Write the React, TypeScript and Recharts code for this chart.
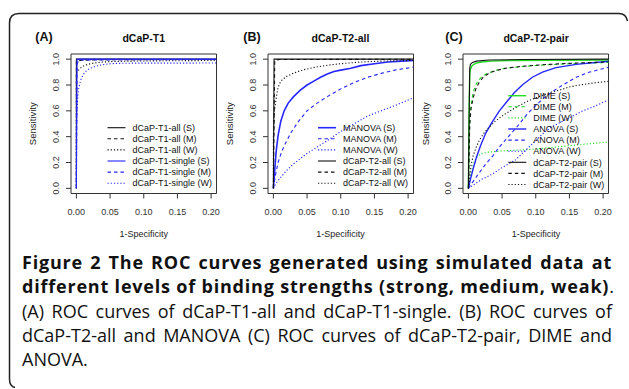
import React from "react";
import { LineChart, Line, XAxis, YAxis, ReferenceArea } from "recharts";

type Pt = [number, number];

// axes shared by the three panels
const X_TICKS = [0, 0.05, 0.1, 0.15, 0.2];
const Y_TICKS = [0, 0.2, 0.4, 0.6, 0.8, 1];
const X_DOMAIN: [number, number] = [-0.008, 0.208];
const Y_DOMAIN: [number, number] = [-0.04, 1.04];

// (A) dCaP-T1 — [1-specificity, sensitivity]
const T1_ALL_S: Pt[] = [[0, 0], [0, 1], [0.21, 1]];
const T1_ALL_M: Pt[] = [[0, 0], [0, 0.985], [0.01, 0.992], [0.03, 0.996], [0.21, 0.998]];
const T1_ALL_W: Pt[] = [
  [0, 0], [0, 0.89], [0.002, 0.905], [0.004, 0.92], [0.007, 0.935], [0.011, 0.948], [0.016, 0.958],
  [0.022, 0.966], [0.03, 0.973], [0.04, 0.978], [0.05, 0.981], [0.08, 0.985], [0.12, 0.987], [0.21, 0.99],
];
const T1_SINGLE_S: Pt[] = [[0, 0], [0.001, 1], [0.21, 1]];
const T1_SINGLE_M: Pt[] = [[0, 0], [0.001, 0.96], [0.003, 0.985], [0.008, 0.994], [0.21, 0.998]];
const T1_SINGLE_W: Pt[] = [
  [0, 0], [0, 0.45], [0.001, 0.6], [0.002, 0.7], [0.003, 0.76], [0.0045, 0.8], [0.0065, 0.84], [0.009, 0.87],
  [0.012, 0.895], [0.016, 0.915], [0.021, 0.93], [0.028, 0.944], [0.036, 0.955], [0.046, 0.962],
  [0.057, 0.967], [0.08, 0.969], [0.21, 0.97],
];

// (B) dCaP-T2-all
const MANOVA_S: Pt[] = [
  [0, 0], [0.002, 0.14], [0.004, 0.28], [0.007, 0.41], [0.011, 0.52], [0.016, 0.6], [0.022, 0.66],
  [0.03, 0.71], [0.04, 0.76], [0.05, 0.8], [0.06, 0.83], [0.07, 0.86], [0.08, 0.885], [0.09, 0.905],
  [0.1, 0.915], [0.115, 0.93], [0.13, 0.95], [0.15, 0.965], [0.17, 0.978], [0.19, 0.985], [0.21, 0.99],
];
const MANOVA_M: Pt[] = [
  [0, 0], [0.003, 0.1], [0.007, 0.2], [0.012, 0.28], [0.018, 0.35], [0.026, 0.43], [0.036, 0.51],
  [0.05, 0.6], [0.065, 0.66], [0.08, 0.71], [0.1, 0.77], [0.12, 0.82], [0.14, 0.86], [0.16, 0.89],
  [0.18, 0.915], [0.21, 0.94],
];
const MANOVA_W: Pt[] = [
  [0, 0], [0.004, 0.04], [0.01, 0.08], [0.02, 0.14], [0.03, 0.19], [0.04, 0.23], [0.05, 0.27],
  [0.065, 0.32], [0.08, 0.37], [0.1, 0.44], [0.12, 0.5], [0.14, 0.56], [0.16, 0.6], [0.18, 0.64], [0.21, 0.705],
];
const T2_ALL_S: Pt[] = [[0, 0], [0.001, 1], [0.21, 1]];
const T2_ALL_M: Pt[] = [[0, 0], [0.002, 0.985], [0.008, 0.997], [0.21, 1]];
const T2_ALL_W: Pt[] = [
  [0, 0], [0, 0.4], [0.001, 0.55], [0.002, 0.62], [0.004, 0.69], [0.006, 0.76], [0.009, 0.81],
  [0.013, 0.84], [0.019, 0.866], [0.027, 0.885], [0.036, 0.904], [0.045, 0.918], [0.055, 0.93],
  [0.068, 0.943], [0.08, 0.953], [0.1, 0.965], [0.13, 0.978], [0.16, 0.985], [0.21, 0.99],
];

// (C) dCaP-T2-pair
const DIME_S: Pt[] = [
  [0, 0], [0.001, 0.6], [0.002, 0.88], [0.003, 0.92], [0.005, 0.945], [0.008, 0.96], [0.012, 0.97],
  [0.02, 0.978], [0.035, 0.985], [0.06, 0.99], [0.21, 0.993],
];
const DIME_M: Pt[] = [
  [0, 0], [0.001, 0.3], [0.002, 0.5], [0.003, 0.6], [0.005, 0.68], [0.007, 0.74], [0.01, 0.79],
  [0.014, 0.83], [0.02, 0.865], [0.028, 0.89], [0.038, 0.91], [0.05, 0.925], [0.065, 0.935],
  [0.085, 0.945], [0.11, 0.955], [0.14, 0.962], [0.17, 0.968], [0.21, 0.975],
];
const DIME_W: Pt[] = [
  [0, 0], [0.002, 0.06], [0.004, 0.12], [0.007, 0.18], [0.01, 0.22], [0.014, 0.25], [0.02, 0.27],
  [0.03, 0.28], [0.05, 0.29], [0.07, 0.295], [0.09, 0.3], [0.11, 0.31], [0.13, 0.32], [0.15, 0.33],
  [0.17, 0.34], [0.19, 0.35], [0.21, 0.36],
];
const ANOVA_S: Pt[] = [
  [0, 0], [0.003, 0.07], [0.007, 0.15], [0.012, 0.24], [0.018, 0.33], [0.026, 0.43], [0.035, 0.51],
  [0.046, 0.6], [0.057, 0.67], [0.068, 0.74], [0.08, 0.8], [0.095, 0.86], [0.11, 0.9], [0.13, 0.935],
  [0.16, 0.96], [0.21, 0.985],
];
const ANOVA_M: Pt[] = [
  [0, 0], [0.008, 0.06], [0.016, 0.12], [0.026, 0.19], [0.036, 0.25], [0.046, 0.32], [0.056, 0.38],
  [0.066, 0.44], [0.076, 0.5], [0.088, 0.58], [0.1, 0.64], [0.11, 0.69], [0.125, 0.75], [0.14, 0.8],
  [0.16, 0.86], [0.18, 0.9], [0.21, 0.94],
];
const ANOVA_W: Pt[] = [
  [0, 0], [0.01, 0.035], [0.02, 0.07], [0.03, 0.095], [0.04, 0.125], [0.05, 0.16], [0.06, 0.19],
  [0.07, 0.22], [0.08, 0.27], [0.09, 0.32], [0.1, 0.37], [0.112, 0.43], [0.125, 0.48], [0.14, 0.52],
  [0.155, 0.56], [0.17, 0.6], [0.185, 0.63], [0.21, 0.69],
];
const T2_PAIR_S: Pt[] = [
  [0, 0], [0.001, 0.5], [0.002, 0.93], [0.003, 0.96], [0.006, 0.975], [0.012, 0.985], [0.03, 0.993],
  [0.08, 0.997], [0.21, 1],
];
const T2_PAIR_M: Pt[] = [
  [0, 0], [0.001, 0.25], [0.002, 0.5], [0.004, 0.62], [0.007, 0.7], [0.011, 0.77], [0.016, 0.82],
  [0.022, 0.86], [0.03, 0.89], [0.04, 0.91], [0.055, 0.93], [0.08, 0.945], [0.12, 0.96], [0.16, 0.97],
  [0.21, 0.98],
];
const T2_PAIR_W: Pt[] = [
  [0, 0], [0.002, 0.1], [0.004, 0.18], [0.007, 0.25], [0.011, 0.31], [0.016, 0.37], [0.022, 0.42],
  [0.03, 0.47], [0.04, 0.52], [0.05, 0.56], [0.062, 0.6], [0.075, 0.64], [0.09, 0.68], [0.105, 0.71],
  [0.12, 0.74], [0.135, 0.76], [0.15, 0.785], [0.165, 0.8], [0.185, 0.815], [0.21, 0.83],
];

const BLACK = "#111111";
const BLUE = "#2626ff";
const GREEN = "#22dd22";
const DASH = "3.5 3";
const DOT = "1.2 2";

const AXIS_FONT = "'Liberation Sans', Arial, sans-serif";
const CAPTION_FONT = "'Open Sans', 'Noto Sans', sans-serif";

// layout (page px)
const PLOT_TOP = 54;
const PLOT_W = 145.5;
const PLOT_H = 139.5;
const Y_AXIS_W = 60;
const CHART_W = Y_AXIS_W + PLOT_W + 10;
const CHART_H = PLOT_TOP + PLOT_H + 50;
const ROW_H = 11.1;

interface Series {
  name: string;
  pts: Pt[];
  color: string;
  dash?: string;
  width?: number;
}

interface Panel {
  letter: string;
  letterX: number;
  title: string;
  left: number;
  legendX: number;
  legendY: number;
  series: Series[];
}

const PANELS: Panel[] = [
  {
    letter: "(A)", letterX: 44, title: "dCaP-T1", left: 71, legendX: 36.5, legendY: 127.7,
    series: [
      { name: "dCaP-T1-all (S)", pts: T1_ALL_S, color: BLACK },
      { name: "dCaP-T1-all (M)", pts: T1_ALL_M, color: BLACK, dash: DASH },
      { name: "dCaP-T1-all (W)", pts: T1_ALL_W, color: BLACK, dash: DOT },
      { name: "dCaP-T1-single (S)", pts: T1_SINGLE_S, color: BLUE },
      { name: "dCaP-T1-single (M)", pts: T1_SINGLE_M, color: BLUE, dash: DASH },
      { name: "dCaP-T1-single (W)", pts: T1_SINGLE_W, color: BLUE, dash: DOT },
    ],
  },
  {
    letter: "(B)", letterX: 252, title: "dCaP-T2-all", left: 267.7, legendX: 50.3, legendY: 127.7,
    series: [
      { name: "MANOVA (S)", pts: MANOVA_S, color: BLUE, width: 1.6 },
      { name: "MANOVA (M)", pts: MANOVA_M, color: BLUE, dash: DASH },
      { name: "MANOVA (W)", pts: MANOVA_W, color: BLUE, dash: DOT },
      { name: "dCaP-T2-all (S)", pts: T2_ALL_S, color: BLACK },
      { name: "dCaP-T2-all (M)", pts: T2_ALL_M, color: BLACK, dash: DASH },
      { name: "dCaP-T2-all (W)", pts: T2_ALL_W, color: BLACK, dash: DOT },
    ],
  },
  {
    letter: "(C)", letterX: 454, title: "dCaP-T2-pair", left: 463.3, legendX: 45, legendY: 95.7,
    series: [
      { name: "DIME (S)", pts: DIME_S, color: GREEN, width: 1.4 },
      { name: "DIME (M)", pts: DIME_M, color: GREEN, dash: DASH },
      { name: "DIME (W)", pts: DIME_W, color: GREEN, dash: DOT },
      { name: "ANOVA (S)", pts: ANOVA_S, color: BLUE, width: 1.4 },
      { name: "ANOVA (M)", pts: ANOVA_M, color: BLUE, dash: DASH },
      { name: "ANOVA (W)", pts: ANOVA_W, color: BLUE, dash: DOT },
      { name: "dCaP-T2-pair (S)", pts: T2_PAIR_S, color: BLACK },
      { name: "dCaP-T2-pair (M)", pts: T2_PAIR_M, color: BLACK, dash: DASH },
      { name: "dCaP-T2-pair (W)", pts: T2_PAIR_W, color: BLACK, dash: DOT },
    ],
  },
];

const CAPTION_LINES = [
  { bold: "Figure 2 The ROC curves generated using simulated data at", rest: "", width: 590 },
  { bold: "different levels of binding strengths (strong, medium, weak)", rest: ".", width: 585 },
  { bold: "", rest: "(A) ROC curves of dCaP-T1-all and dCaP-T1-single. (B) ROC curves of", width: 590 },
  { bold: "", rest: "dCaP-T2-all and MANOVA (C) ROC curves of dCaP-T2-pair, DIME and", width: 590 },
  { bold: "", rest: "ANOVA.", width: 0 },
];

const toRows = (pts: Pt[]) => pts.map(([fpr, tpr]) => ({ fpr, tpr }));

/* eslint-disable @typescript-eslint/no-explicit-any */
const YTick = ({ x, y, payload }: any) => (
  <text
    x={0}
    y={0}
    transform={`translate(${x},${y}) rotate(-90)`}
    textAnchor="middle"
    fontSize={9}
    fill="#333"
    fontFamily={AXIS_FONT}
  >
    {Number(payload.value).toFixed(1)}
  </text>
);
/* eslint-enable @typescript-eslint/no-explicit-any */

function RocPanel({ panel }: { panel: Panel }) {
  return (
    <div style={{ position: "absolute", left: panel.left - Y_AXIS_W, top: 0 }}>
      <LineChart width={CHART_W} height={CHART_H} margin={{ top: PLOT_TOP, right: 10, bottom: 0, left: 0 }}>
        <XAxis
          type="number"
          dataKey="fpr"
          domain={X_DOMAIN}
          ticks={X_TICKS}
          interval={0}
          allowDataOverflow
          tickFormatter={(v: number) => v.toFixed(2)}
          tickSize={5}
          tickMargin={10}
          axisLine={false}
          tickLine={{ stroke: "#333" }}
          tick={{ fontSize: 9, fill: "#333", fontFamily: AXIS_FONT }}
          height={50}
        />
        <YAxis
          type="number"
          domain={Y_DOMAIN}
          ticks={Y_TICKS}
          interval={0}
          allowDataOverflow
          tick={<YTick />}
          tickSize={5}
          tickMargin={7.5}
          axisLine={false}
          tickLine={{ stroke: "#333" }}
          width={Y_AXIS_W}
        />
        <ReferenceArea
          x1={X_DOMAIN[0]}
          x2={X_DOMAIN[1]}
          y1={Y_DOMAIN[0]}
          y2={Y_DOMAIN[1]}
          fill="none"
          stroke="#333"
          strokeWidth={1}
          ifOverflow="visible"
        />
        {panel.series.map((s) => (
          <Line
            key={s.name}
            name={s.name}
            data={toRows(s.pts)}
            dataKey="tpr"
            type="linear"
            stroke={s.color}
            strokeWidth={s.width ?? 1.1}
            strokeDasharray={s.dash}
            dot={false}
            activeDot={false}
            isAnimationActive={false}
          />
        ))}
      </LineChart>
    </div>
  );
}

// R-style legend without a box, drawn over the curves
const PanelLegend = ({ panel }: { panel: Panel }) => {
  const x0 = panel.left + panel.legendX;
  return (
    <g fontFamily={AXIS_FONT}>
      {panel.series.map((s, i) => {
        const cy = panel.legendY + i * ROW_H;
        return (
          <g key={s.name}>
            <line x1={x0} x2={x0 + 18} y1={cy} y2={cy} stroke={s.color} strokeWidth={s.width ?? 1.1} strokeDasharray={s.dash} />
            <text x={x0 + 25} y={cy + 3.2} fontSize={9} fill="#111">
              {s.name}
            </text>
          </g>
        );
      })}
    </g>
  );
};

export default function App() {
  return (
    <div style={{ position: "absolute", left: 0, top: 0, width: 629, height: 389, background: "#fff", overflow: "hidden" }}>
      {PANELS.map((p) => (
        <RocPanel key={p.letter} panel={p} />
      ))}
      <svg width={629} height={389} style={{ position: "absolute", left: 0, top: 0, pointerEvents: "none" }}>
        <path
          d="M 9.5,379 L 9.5,23 Q 9.5,13.5 19,13.5 L 619,13.5 Q 626,13.5 627.5,21"
          fill="none"
          stroke="#222"
          strokeWidth={1.5}
        />
        <path d="M 9.5,379 Q 9.5,386.5 15,387.5" fill="none" stroke="#222" strokeWidth={1.5} />
        {PANELS.map((p) => (
          <g key={p.letter} fontFamily={AXIS_FONT}>
            <text x={p.letterX} y={40.5} textAnchor="middle" fontSize={12.5} fontWeight="bold" fill="#111">
              {p.letter}
            </text>
            <text x={p.left + PLOT_W / 2} y={41.5} textAnchor="middle" fontSize={10.5} fontWeight="bold" fill="#111">
              {p.title}
            </text>
            <text
              transform={`translate(${p.left - 34.7},${PLOT_TOP + PLOT_H / 2}) rotate(-90)`}
              textAnchor="middle"
              fontSize={9.5}
              fill="#222"
            >
              Sensitivity
            </text>
            <text x={p.left + PLOT_W / 2} y={236.5} textAnchor="middle" fontSize={9} fill="#222">
              1-Specificity
            </text>
            <PanelLegend panel={p} />
          </g>
        ))}
      </svg>
      <div style={{ position: "absolute", left: 22, top: 250, fontFamily: CAPTION_FONT, fontSize: 18, lineHeight: "24.3px", color: "#111" }}>
        {CAPTION_LINES.map((l, i) => (
          <div
            key={i}
            style={{
              width: l.width || "auto",
              whiteSpace: "nowrap",
              textAlign: "justify",
              textAlignLast: l.width ? "justify" : "left",
            }}
          >
            {l.bold && <b style={{ letterSpacing: "0.8px" }}>{l.bold}</b>}
            {l.rest}
          </div>
        ))}
      </div>
    </div>
  );
}
